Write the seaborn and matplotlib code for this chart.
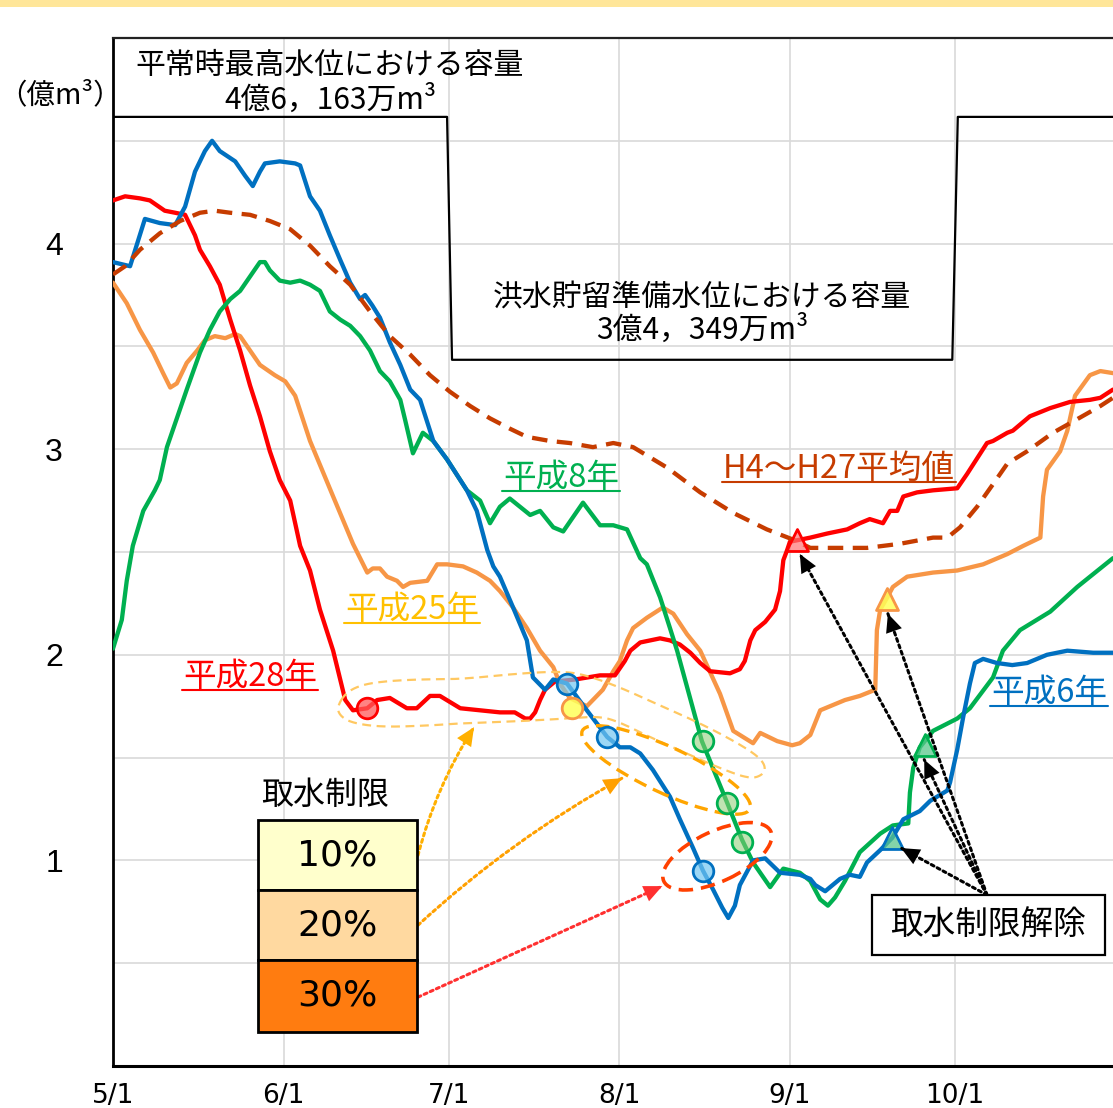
import numpy as np
import matplotlib
matplotlib.use("Agg")
import matplotlib.pyplot as plt
import seaborn as sns
from matplotlib.patches import Rectangle, Ellipse
from matplotlib.lines import Line2D
from matplotlib.transforms import Affine2D, IdentityTransform

# ---------------- data (days since 5/1, 億m3) ----------------
month_ticks = [0, 31, 61, 92, 123, 153]
month_labels = ["5/1", "6/1", "7/1", "8/1", "9/1", "10/1"]

cap_days = [0, 60.7, 61.6, 152.5, 153.5, 181.7]
cap_vals = [4.6163, 4.6163, 3.4349, 3.4349, 4.6163, 4.6163]

h6_days = [0, 3.1, 5.8, 8.5, 11.3, 13.1, 14.9, 16.7, 18.0, 19.4, 22.2, 24.0, 25.4, 26.7, 27.6,
           30.3, 33.1, 34.0, 35.8, 37.6, 39.4, 41.3, 43.1, 44.9, 45.8, 47.1, 48.5, 50.3, 52.2, 54.0,
           55.8, 58.2, 60.7, 64.3, 66.1, 68.0, 69.1, 70.3, 72.7, 75.2, 76.3, 78.5, 80.0, 82.5, 86.1,
           89.8, 92.1, 94.0, 95.8, 98.1, 101.2, 103.0, 105.4, 107.2, 109.0, 110.7, 111.8, 113.0, 113.9, 116.3,
           118.5, 121.2, 124.8, 126.7, 127.6, 129.4, 130.3, 132.1, 133.9, 135.7, 137.0, 139.4, 141.6, 143.6, 146.6,
           148.5, 151.6, 152.1, 153.4, 154.5, 155.7, 156.6, 158.1, 160.6, 163.4, 166.1, 169.7, 173.4, 178.1, 181.7]
h6_vals = [3.91, 3.89, 4.12, 4.10, 4.09, 4.18, 4.35, 4.45, 4.50, 4.45, 4.40, 4.33, 4.28, 4.35, 4.39,
           4.40, 4.39, 4.38, 4.23, 4.16, 4.04, 3.92, 3.81, 3.73, 3.75, 3.70, 3.64, 3.52, 3.41, 3.29,
           3.24, 3.04, 2.95, 2.80, 2.70, 2.51, 2.43, 2.38, 2.23, 2.07, 1.89, 1.83, 1.88, 1.86, 1.73,
           1.60, 1.55, 1.55, 1.52, 1.44, 1.31, 1.20, 1.06, 0.95, 0.86, 0.77, 0.72, 0.78, 0.88, 1.00,
           1.01, 0.94, 0.93, 0.91, 0.88, 0.85, 0.87, 0.91, 0.93, 0.92, 0.99, 1.05, 1.11, 1.20, 1.24,
           1.29, 1.34, 1.38, 1.54, 1.70, 1.86, 1.96, 1.98, 1.96, 1.95, 1.96, 2.00, 2.02, 2.01, 2.01]

h8_days = [0, 1.6, 2.5, 3.6, 5.5, 7.6, 8.5, 9.8, 11.6, 13.4, 15.8, 17.6, 19.4,
           21.3, 23.1, 24.9, 26.7, 27.6, 28.5, 30.3, 32.2, 34.0, 35.8, 37.6, 39.4, 41.3, 43.1, 44.9,
           46.7, 48.5, 50.3, 52.2, 53.1, 54.5, 56.3, 58.2, 60.7, 63.1, 64.3, 66.7, 68.5, 70.3, 72.1,
           75.8, 77.6, 80.0, 81.8, 85.4, 88.5, 90.9, 93.4, 95.8, 97.0, 99.4, 101.2, 102.5, 107.0, 111.6,
           114.3, 116.3, 119.4, 121.8, 124.8, 126.7, 128.5, 129.9, 131.2, 133.0, 135.7, 139.4, 141.7, 144.5,
           144.8, 145.4, 146.6, 149.0, 153.4, 155.7, 159.9, 161.7, 164.8, 170.3, 175.2, 181.7]
h8_vals = [2.03, 2.17, 2.36, 2.53, 2.70, 2.80, 2.85, 3.01, 3.15, 3.29, 3.47, 3.58, 3.67,
           3.73, 3.77, 3.84, 3.91, 3.91, 3.87, 3.82, 3.81, 3.82, 3.80, 3.77, 3.67, 3.63, 3.60, 3.55,
           3.48, 3.38, 3.33, 3.24, 3.14, 2.98, 3.08, 3.04, 2.95, 2.85, 2.80, 2.75, 2.64, 2.72, 2.76,
           2.68, 2.70, 2.62, 2.60, 2.74, 2.63, 2.63, 2.61, 2.47, 2.44, 2.28, 2.13, 2.02, 1.58, 1.28,
           1.10, 0.99, 0.87, 0.96, 0.94, 0.90, 0.81, 0.78, 0.82, 0.90, 1.04, 1.13, 1.17, 1.18,
           1.33, 1.45, 1.55, 1.63, 1.69, 1.74, 1.89, 2.02, 2.12, 2.21, 2.33, 2.47]

h28_days = [0, 2.2, 4.9, 6.7, 9.4, 11.3, 13.1, 14.9, 15.8, 17.6, 19.4, 21.3, 23.1, 24.9, 26.7,
            28.5, 30.3, 32.2, 34.0, 35.8, 37.6, 40.0, 42.2, 43.6, 46.2, 48.0, 50.3, 53.4, 55.2, 57.6,
            59.4, 63.1, 66.7, 70.3, 73.0, 74.9, 75.8, 76.7, 77.6, 78.5, 80.3, 84.0, 88.5, 91.2, 93.0,
            94.0, 95.8, 99.4, 101.2, 103.0, 104.9, 106.7, 108.5, 112.1, 113.9, 114.8, 115.8, 116.7, 118.5, 120.3,
            121.2, 121.8, 122.5, 123.0, 126.7, 129.8, 133.4, 135.7, 137.5, 139.9, 141.2, 142.5, 143.6, 146.1, 149.0,
            153.4, 155.2, 158.8, 159.9, 162.5, 163.5, 166.6, 170.3, 173.9, 177.5, 179.4, 181.7]
h28_vals = [4.21, 4.23, 4.22, 4.21, 4.16, 4.15, 4.14, 4.04, 3.97, 3.89, 3.80, 3.63, 3.48, 3.31, 3.16,
            2.99, 2.85, 2.75, 2.53, 2.41, 2.22, 2.02, 1.78, 1.73, 1.74, 1.78, 1.79, 1.74, 1.74, 1.80,
            1.80, 1.74, 1.73, 1.72, 1.72, 1.69, 1.69, 1.72, 1.78, 1.83, 1.87, 1.88, 1.90, 1.90, 1.97,
            2.02, 2.06, 2.08, 2.07, 2.05, 2.01, 1.96, 1.92, 1.91, 1.93, 1.97, 2.07, 2.12, 2.16, 2.22,
            2.31, 2.46, 2.51, 2.55, 2.57, 2.59, 2.61, 2.64, 2.66, 2.64, 2.70, 2.70, 2.77, 2.79, 2.80,
            2.81, 2.88, 3.03, 3.04, 3.08, 3.09, 3.16, 3.20, 3.23, 3.24, 3.25, 3.29]

h25_days = [0, 2.5, 4.9, 7.3, 9.1, 10.4, 11.6, 13.4, 15.3, 16.7, 18.5, 20.4, 22.2, 23.1, 24.9,
            26.7, 29.4, 31.3, 33.1, 35.8, 40.0, 43.6, 46.2, 47.2, 48.5, 49.8, 51.6, 52.7, 54.0, 57.1,
            58.9, 60.7, 63.6, 66.1, 68.5, 70.3, 72.7, 75.2, 77.6, 80.0, 81.2, 83.0, 86.1, 89.0, 90.9,
            92.1, 93.4, 94.5, 97.0, 99.9, 101.8, 104.3, 106.7, 110.3, 112.7, 116.3, 117.6, 120.7, 123.4, 124.8,
            126.7, 128.5, 130.3, 133.0, 135.7, 138.5, 138.8, 139.4, 140.7, 141.7, 144.3, 149.0, 153.4, 158.1, 162.5,
            165.4, 168.5, 169.0, 169.7, 172.1, 173.4, 174.8, 177.5, 179.4, 181.7]
h25_vals = [3.81, 3.71, 3.58, 3.47, 3.37, 3.30, 3.32, 3.42, 3.48, 3.53, 3.55, 3.54, 3.56, 3.55, 3.48,
            3.41, 3.36, 3.33, 3.26, 3.04, 2.77, 2.54, 2.40, 2.42, 2.42, 2.38, 2.36, 2.33, 2.35, 2.36,
            2.44, 2.44, 2.43, 2.40, 2.36, 2.31, 2.23, 2.13, 2.02, 1.94, 1.86, 1.79, 1.75, 1.83, 1.92,
            1.97, 2.07, 2.13, 2.18, 2.23, 2.20, 2.10, 2.02, 1.81, 1.63, 1.57, 1.62, 1.58, 1.56, 1.57,
            1.61, 1.73, 1.75, 1.78, 1.80, 1.83, 2.12, 2.22, 2.28, 2.33, 2.38, 2.40, 2.41, 2.44, 2.49,
            2.53, 2.57, 2.77, 2.90, 2.99, 3.09, 3.26, 3.36, 3.38, 3.37]

avg_days = [0, 2.2, 4.9, 8.5, 12.2, 15.8, 18.5, 21.3, 24.9, 28.5, 32.2, 35.8, 39.4, 43.1, 46.7,
            50.3, 54.0, 57.6, 61.2, 64.9, 68.5, 72.1, 75.2, 79.4, 83.0, 87.2, 90.9, 94.5, 100.7, 106.7,
            112.7, 118.8, 123.6, 126.7, 130.8, 137.0, 143.0, 149.0, 151.6, 153.9, 157.0, 159.9, 162.5, 166.1, 170.8,
            174.8, 179.4, 181.7]
avg_vals = [3.85, 3.89, 3.97, 4.05, 4.11, 4.15, 4.16, 4.15, 4.14, 4.11, 4.07, 3.99, 3.89, 3.80, 3.67,
            3.55, 3.46, 3.36, 3.28, 3.21, 3.15, 3.10, 3.06, 3.04, 3.03, 3.01, 3.03, 3.01, 2.91, 2.79,
            2.69, 2.61, 2.56, 2.52, 2.52, 2.52, 2.54, 2.57, 2.57, 2.62, 2.72, 2.83, 2.93, 2.99, 3.08,
            3.14, 3.21, 3.25]

# restriction start (circles) and release (triangles)
start_h28 = ([46.2], [1.74])
start_h25 = ([83.4], [1.74])
start_h6 = ([82.5, 89.8, 107.2], [1.86, 1.60, 0.95])
start_h8 = ([107.2, 111.6, 114.3], [1.58, 1.28, 1.09])
end_h28 = ([124.3], [2.56])
end_h25 = ([140.7], [2.27])
end_h8 = ([147.6], [1.56])
end_h6 = ([141.6], [1.11])

restrict_labels = ["10%", "20%", "30%"]
restrict_colors = ["#FFFFCC", "#FFD9A0", "#FF7C10"]

# ---------------- styling ----------------
sns.set_theme(style="whitegrid")
plt.rcParams["font.family"] = ["Noto Sans CJK JP", "DejaVu Sans"]

RED = "#FF0000"
ORANGE = "#F79646"
GREEN = "#00B050"
BLUE = "#0070C0"
AVG = "#C63C00"
GOLD = "#FFC000"

fig = plt.figure(figsize=(11.13, 11.08), dpi=100)
fig.patch.set_facecolor("white")
ax = fig.add_axes([113 / 1113, 42 / 1108, 1000 / 1113, 1028 / 1108])
ax.set_facecolor("white")
ax.set_xlim(0, 181.7)
ax.set_ylim(0, 5)

# grid
ax.set_xticks(month_ticks)
ax.set_xticklabels(month_labels)
yt = np.arange(0.5, 4.75, 0.5)
ax.set_yticks(yt)
ax.set_yticklabels([f"{int(v)}" if float(v).is_integer() else "" for v in yt])
ax.grid(True, color="#D9D9D9", lw=1.2)
ax.set_axisbelow(True)
ax.tick_params(axis="x", length=0, pad=12, labelsize=19, colors="black")
ax.tick_params(axis="y", length=0, pad=36, labelsize=23, colors="black")
for lbl in ax.get_xticklabels():
    lbl.set_family(["Liberation Sans Narrow", "DejaVu Sans"])
for lbl in ax.get_yticklabels():
    lbl.set_family(["Liberation Sans", "DejaVu Sans"])
for side in ["left", "bottom", "top"]:
    ax.spines[side].set_visible(True)
    ax.spines[side].set_color("black")
ax.spines["left"].set_linewidth(2.0)
ax.spines["bottom"].set_linewidth(2.2)
ax.spines["top"].set_linewidth(1.6)
ax.spines["top"].set_color("#222222")
ax.spines["right"].set_visible(False)
ax.set_xlabel("")
ax.set_ylabel("")

# capacity step line
sns.lineplot(x=cap_days, y=cap_vals, ax=ax, color="black", lw=1.6, estimator=None, sort=False, zorder=2)

# series
sns.lineplot(x=h25_days, y=h25_vals, ax=ax, color=ORANGE, lw=3.1, estimator=None, sort=False, zorder=3)
sns.lineplot(x=h28_days, y=h28_vals, ax=ax, color=RED, lw=3.1, estimator=None, sort=False, zorder=3.2)
sns.lineplot(x=h8_days, y=h8_vals, ax=ax, color=GREEN, lw=3.1, estimator=None, sort=False, zorder=3.3)
sns.lineplot(x=h6_days, y=h6_vals, ax=ax, color=BLUE, lw=3.1, estimator=None, sort=False, zorder=3.4)
sns.lineplot(x=avg_days, y=avg_vals, ax=ax, color=AVG, lw=3.1, estimator=None, sort=False, zorder=3.5,
             linestyle=(0, (3.6, 2.2)))

# dashed ellipses -----------------------------------------------------
def chaikin_closed(pts, n=4):
    p = np.asarray(pts, dtype=float)
    for _ in range(n):
        q = np.roll(p, -1, axis=0)
        newp = np.empty((2 * len(p), 2))
        newp[0::2] = 0.75 * p + 0.25 * q
        newp[1::2] = 0.25 * p + 0.75 * q
        p = newp
    return np.vstack([p, p[:1]])

outline_10 = [(40.7, 1.745), (42.2, 1.813), (44.9, 1.852), (49.1, 1.871), (55.8, 1.881), (63.1, 1.881),
              (74.0, 1.910), (81.8, 1.920), (86.1, 1.900), (92.1, 1.842), (98.1, 1.769), (104.3, 1.696),
              (110.3, 1.618), (116.3, 1.526), (118.5, 1.468), (118.3, 1.419), (115.8, 1.395), (110.3, 1.448),
              (104.9, 1.512), (97.6, 1.599), (92.1, 1.672), (88.5, 1.701), (83.0, 1.691), (74.0, 1.677),
              (63.1, 1.667), (58.2, 1.657), (49.1, 1.648), (43.6, 1.667), (41.3, 1.701)]
sm = chaikin_closed(outline_10)
ax.plot(sm[:, 0], sm[:, 1], color="#FFC861", lw=1.6, linestyle=(0, (4, 2.5)), zorder=4)

fig.canvas.draw()


def pixel_ellipse(center, w, h, angle, color, lw, dashes):
    cx, cy = ax.transData.transform(center)
    e = Ellipse((0, 0), w, h, angle=angle, fill=False, edgecolor=color, lw=lw,
                linestyle=(0, dashes), transform=Affine2D().translate(cx, cy), zorder=4)
    ax.add_artist(e)

pixel_ellipse((100.5, 1.44), 185, 46, -25, "#FFA500", 2.4, (4, 2.2))
pixel_ellipse((109.8, 1.02), 118, 50, 25, "#FF4000", 2.6, (4, 2.2))

# markers ---------------------------------------------------------------
def circles(pts, face, edge):
    ax.scatter(pts[0], pts[1], s=220, marker="o", facecolors=[face], edgecolors=[edge],
               linewidths=2.0, zorder=5)

def triangles(pts, face, edge):
    ax.scatter(pts[0], pts[1], s=250, marker="^", facecolors=[face], edgecolors=[edge],
               linewidths=2.0, zorder=5)

circles(start_h28, (1.0, 0.35, 0.35, 0.75), RED)
circles(start_h25, (1.0, 1.0, 0.35, 0.85), ORANGE)
circles(start_h6, (0.45, 0.78, 0.95, 0.7), BLUE)
circles(start_h8, (0.55, 0.80, 0.45, 0.55), GREEN)
triangles(end_h28, (1.0, 0.45, 0.45, 0.7), RED)
triangles(end_h25, (1.0, 1.0, 0.35, 0.85), ORANGE)
triangles(end_h8, (0.35, 0.78, 0.55, 0.75), GREEN)
triangles(end_h6, (0.35, 0.78, 0.55, 0.75), BLUE)

# texts -----------------------------------------------------------------
ax.text(0.217, 0.9728, "平常時最高水位における容量", transform=ax.transAxes, ha="center", va="center",
        fontsize=21.5, color="black", zorder=7)
ax.text(0.217, 0.9397, "4億6，163万m³", transform=ax.transAxes, ha="center", va="center",
        fontsize=21.5, color="black", zorder=7)
ax.text(0.589, 0.747, "洪水貯留準備水位における容量", transform=ax.transAxes, ha="center", va="center",
        fontsize=21.5, color="black", zorder=7)
ax.text(0.589, 0.716, "3億4，349万m³", transform=ax.transAxes, ha="center", va="center",
        fontsize=21.5, color="black", zorder=7)
fig.text(60 / 1113, 1 - 95 / 1108, "（億m³）", ha="center", va="center", fontsize=20.5, color="black")

series_labels = [
    ("平成28年", 24.9, 1.89, RED),
    ("平成25年", 54.3, 2.216, GOLD),
    ("平成8年", 81.4, 2.858, GREEN),
    ("H4～H27平均値", 131.9, 2.906, AVG),
    ("平成6年", 170.1, 1.813, BLUE),
]
label_artists = []
for txt, xd, yd, col in series_labels:
    t = ax.text(xd, yd, txt, ha="center", va="center", fontsize=23.5, color=col, zorder=7)
    label_artists.append((t, col))

# restriction legend box
ax.text(0.212, 0.2636, "取水制限", transform=ax.transAxes, ha="center", va="center",
        fontsize=23, color="black", zorder=7)
box_x0, box_w = 0.145, 0.159
cell_tops = [0.2393, 0.1712, 0.1031]
cell_bottoms = [0.1712, 0.1031, 0.0331]
for lab, col, top, bot in zip(restrict_labels, restrict_colors, cell_tops, cell_bottoms):
    ax.add_patch(Rectangle((box_x0, bot), box_w, top - bot, transform=ax.transAxes, facecolor=col,
                           edgecolor="black", lw=2.0, zorder=7, clip_on=False))
    ax.text(box_x0 + box_w / 2, (top + bot) / 2, lab, transform=ax.transAxes, ha="center", va="center",
            fontsize=26, color="black", family=["DejaVu Sans"], zorder=8)

# release box
ax.add_patch(Rectangle((0.759, 0.1080), 0.233, 0.0583, transform=ax.transAxes, facecolor="white",
                       edgecolor="black", lw=1.6, zorder=7, clip_on=False))
ax.text(0.875, 0.137, "取水制限解除", transform=ax.transAxes, ha="center", va="center",
        fontsize=23.5, color="black", zorder=8)

# arrows: dotted shaft + solid filled head -------------------------------
def dotted_arrow(xy, xytext, color, rad):
    ax.annotate("", xy=xy, xycoords="data", xytext=xytext, textcoords="axes fraction",
                arrowprops=dict(arrowstyle="-", color=color, lw=2.2,
                                linestyle=(0, (1, 1.2)), shrinkA=0, shrinkB=0,
                                connectionstyle=f"arc3,rad={rad}"),
                zorder=6)
    ax.annotate("", xy=xy, xycoords="data", xytext=xytext, textcoords="axes fraction",
                arrowprops=dict(arrowstyle="-|>,head_length=1.1,head_width=0.5", color=color, lw=0.0,
                                shrinkA=0, shrinkB=0, connectionstyle=f"arc3,rad={rad}"),
                zorder=6)

dotted_arrow((65.6, 1.648), (0.305, 0.205), "#FFB000", -0.08)
dotted_arrow((92.5, 1.40), (0.305, 0.137), "#FFA000", -0.06)
dotted_arrow((99.8, 0.875), (0.305, 0.067), "#FF3030", 0.0)
for tip in [(124.8, 2.49), (140.8, 2.20), (147.4, 1.49), (143.2, 1.06)]:
    dotted_arrow(tip, (0.874, 0.1663), "black", 0.0)

# top banner
fig.add_artist(Rectangle((0, 1 - 7 / 1108), 1, 7 / 1108, transform=fig.transFigure,
                         facecolor="#FFE699", edgecolor="none"))

# underlines for series labels
fig.canvas.draw()
renderer = fig.canvas.get_renderer()
for t, col in label_artists:
    bb = t.get_window_extent(renderer)
    fig.add_artist(Line2D([bb.x0 - 1, bb.x1 + 1], [bb.y0 + 3, bb.y0 + 3], color=col, lw=1.5,
                          transform=IdentityTransform()))

fig.savefig("out.png", dpi=100)
